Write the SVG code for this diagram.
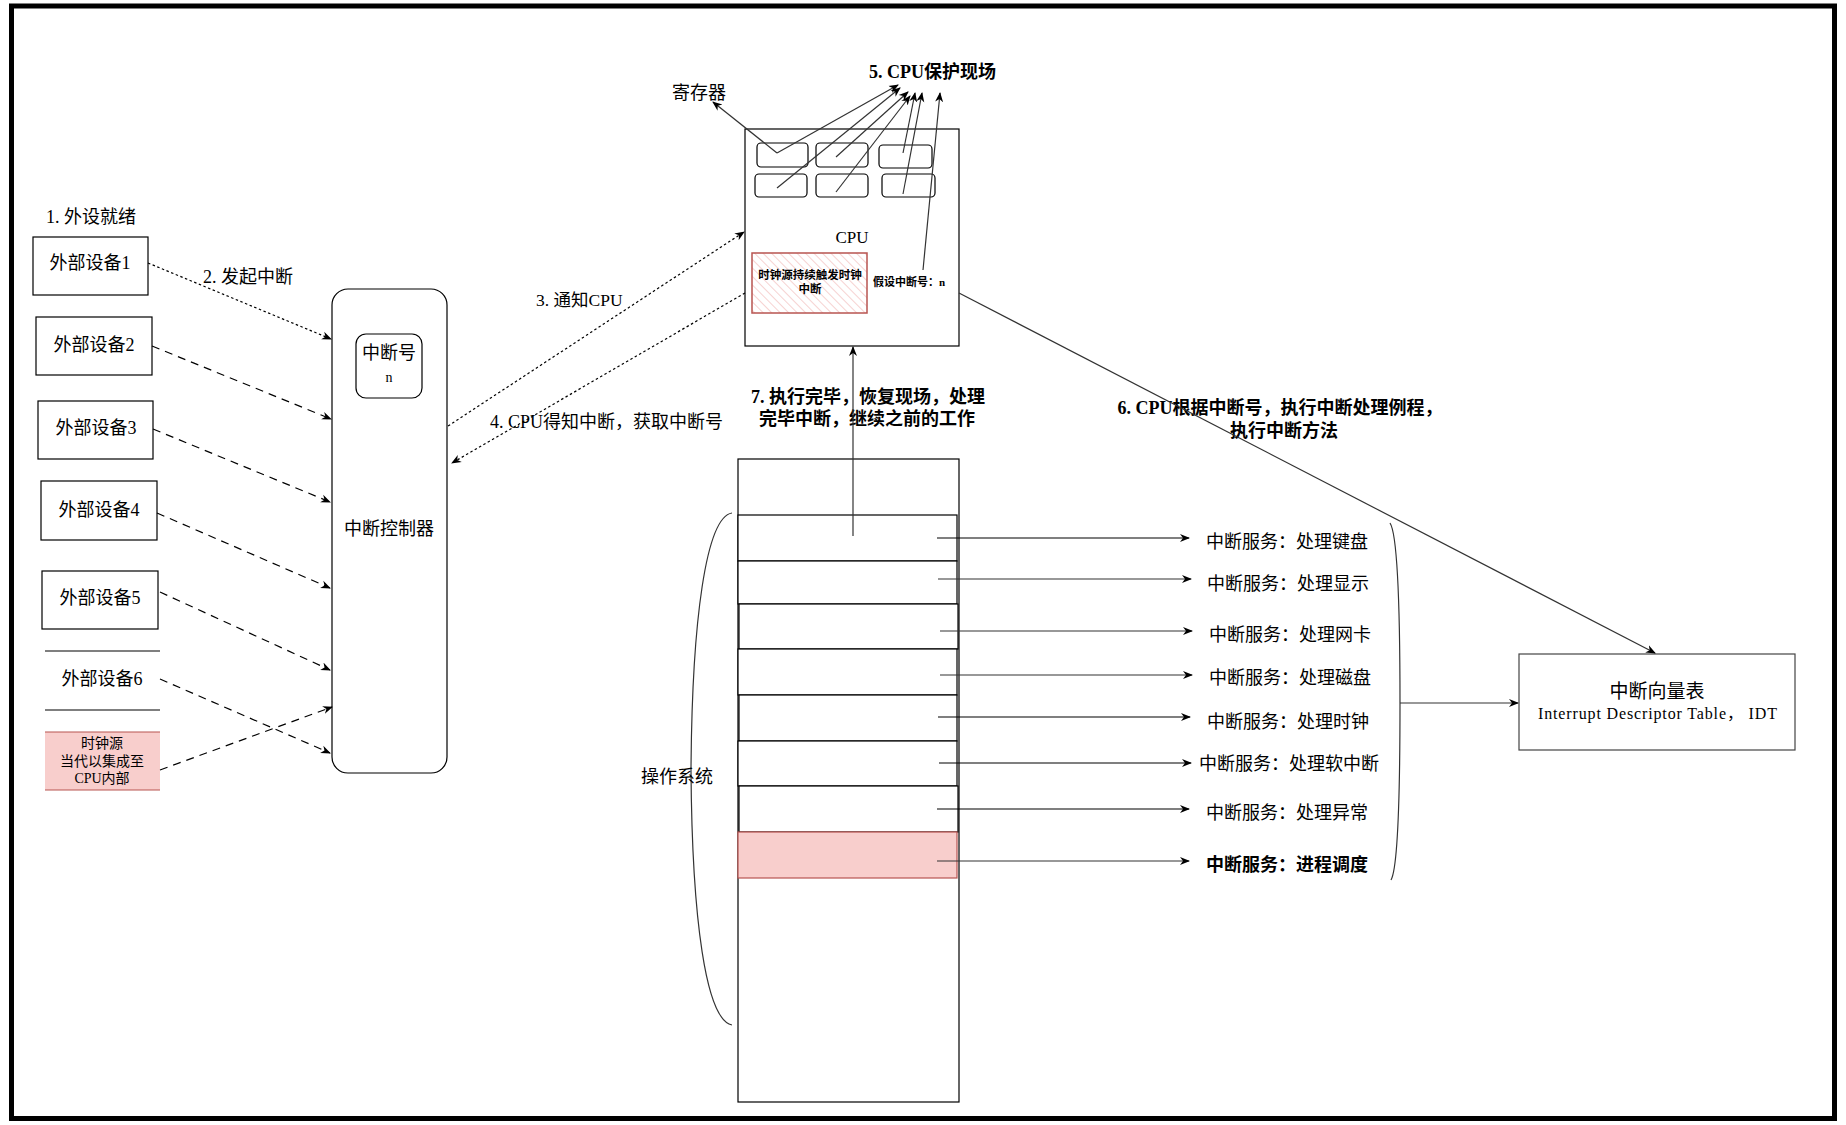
<svg xmlns="http://www.w3.org/2000/svg" width="1846" height="1125" viewBox="0 0 1846 1125">
<style>
.t{font-family:"Liberation Serif","Noto Sans CJK SC",serif;fill:#000;}
.b{font-weight:bold;}
.box{fill:#fff;stroke:#000;stroke-width:1.2;}
.ln{fill:none;stroke:#000;stroke-width:1.2;}
.gl{fill:none;stroke:#333;stroke-width:1.2;}
.dot{fill:none;stroke:#000;stroke-width:1.2;stroke-dasharray:2.5 2.5;}
.dash{fill:none;stroke:#000;stroke-width:1.2;stroke-dasharray:8 6;}
</style>
<defs>
<marker id="ah" viewBox="0 0 10 10" refX="9" refY="5" markerWidth="10" markerHeight="10" markerUnits="userSpaceOnUse" orient="auto">
<path d="M0,1 L10,5 L0,9 L3,5 z" fill="#000"/>
</marker>
<pattern id="hatch" width="6" height="6" patternUnits="userSpaceOnUse" patternTransform="rotate(-45)">
<rect width="6" height="6" fill="#fff"/>
<line x1="0" y1="0" x2="0" y2="6" stroke="#f4c4c2" stroke-width="1.5"/>
</pattern>
</defs>
<rect x="0" y="0" width="1846" height="1125" fill="#fff"/>
<rect x="11.5" y="6" width="1823" height="1112.5" fill="none" stroke="#000" stroke-width="5"/>

<text class="t" x="46" y="223" font-size="18">1. 外设就绪</text>
<text class="t" x="203" y="283" font-size="18">2. 发起中断</text>
<text class="t" x="536" y="306" font-size="17.5">3. 通知CPU</text>
<text class="t" x="490" y="428" font-size="18">4. CPU得知中断，获取中断号</text>
<text class="t b" x="869" y="78" font-size="18">5. CPU保护现场</text>
<text class="t" x="672" y="99" font-size="18">寄存器</text>
<text class="t b" x="1280" y="414" font-size="18" text-anchor="middle">6. CPU根据中断号，执行中断处理例程，</text>
<text class="t b" x="1284" y="437" font-size="18" text-anchor="middle">执行中断方法</text>
<text class="t b" x="868" y="403" font-size="18" text-anchor="middle">7. 执行完毕，恢复现场，处理</text>
<text class="t b" x="867" y="425" font-size="18" text-anchor="middle">完毕中断，继续之前的工作</text>

<g id="dev1"><rect class="box" x="33" y="237" width="115" height="58"/><text class="t" x="90" y="269" font-size="18" text-anchor="middle">外部设备1</text></g>
<g id="dev2"><rect class="box" x="36" y="317" width="116" height="58"/><text class="t" x="94" y="351" font-size="18" text-anchor="middle">外部设备2</text></g>
<g id="dev3"><rect class="box" x="38" y="401" width="115" height="58"/><text class="t" x="96" y="434" font-size="18" text-anchor="middle">外部设备3</text></g>
<g id="dev4"><rect class="box" x="41" y="481" width="116" height="59"/><text class="t" x="99" y="516" font-size="18" text-anchor="middle">外部设备4</text></g>
<g id="dev5"><rect class="box" x="42" y="571" width="116" height="58"/><text class="t" x="100" y="604" font-size="18" text-anchor="middle">外部设备5</text></g>
<g id="dev6"><line class="ln" x1="45" y1="651" x2="160" y2="651"/><line class="ln" x1="45" y1="710" x2="160" y2="710"/><text class="t" x="102" y="685" font-size="18" text-anchor="middle">外部设备6</text></g>
<g id="clock"><rect x="45" y="732" width="115" height="58" fill="#f8cecc"/><line x1="45" y1="732" x2="160" y2="732" stroke="#b85450" stroke-width="1.2"/><line x1="45" y1="790" x2="160" y2="790" stroke="#b85450" stroke-width="1.2"/>
<text class="t" x="102" y="748" font-size="14" text-anchor="middle">时钟源</text>
<text class="t" x="102" y="766" font-size="14" text-anchor="middle">当代以集成至</text>
<text class="t" x="102" y="783" font-size="14" text-anchor="middle">CPU内部</text></g>

<g id="controller"><rect class="box" x="332" y="289" width="115" height="484" rx="16"/>
<rect class="box" x="356" y="334" width="66" height="64" rx="10"/>
<text class="t" x="389" y="359" font-size="18" text-anchor="middle">中断号</text>
<text class="t" x="389" y="382" font-size="14" text-anchor="middle">n</text>
<text class="t" x="389" y="535" font-size="18" text-anchor="middle">中断控制器</text></g>

<g id="cpu"><rect class="box" x="745" y="129" width="214" height="217"/>
<rect class="box" x="757" y="143" width="51" height="24" rx="4"/>
<rect class="box" x="816" y="143" width="52" height="24" rx="4"/>
<rect class="box" x="879" y="145" width="53" height="23" rx="4"/>
<rect class="box" x="755" y="174" width="52" height="23" rx="4"/>
<rect class="box" x="816" y="174" width="52" height="23" rx="4"/>
<rect class="box" x="882" y="174" width="53" height="23" rx="4"/>
<text class="t" x="852" y="243" font-size="17" text-anchor="middle">CPU</text>
<rect x="752" y="253" width="115" height="60" fill="url(#hatch)" stroke="#b85450" stroke-width="1.5"/>
<text class="t b" x="810" y="279" font-size="11.5" text-anchor="middle">时钟源持续触发时钟</text>
<text class="t b" x="810" y="293" font-size="11.5" text-anchor="middle">中断</text>
<text class="t b" x="873" y="286" font-size="11">假设中断号：n</text></g>

<g id="os"><rect class="box" x="738" y="459" width="221" height="643"/>
<rect class="box" x="738" y="515" width="219" height="46"/>
<rect class="box" x="738" y="561" width="219" height="43"/>
<rect class="box" x="739" y="604" width="219" height="45"/>
<rect class="box" x="738" y="649" width="219" height="46"/>
<rect class="box" x="739" y="695" width="218" height="46"/>
<rect class="box" x="738" y="741" width="219" height="45"/>
<rect class="box" x="739" y="786" width="219" height="46"/>
<rect x="738" y="832" width="219" height="46" fill="#f8cecc" stroke="#b85450" stroke-width="1.2"/>
<path class="gl" d="M732,513 C706,517 692,620 691,770 C692,920 706,1020 732,1025"/>
<text class="t" x="677" y="783" font-size="18" text-anchor="middle">操作系统</text></g>

<g id="services">
<text class="t" x="1206" y="548" font-size="18">中断服务：处理键盘</text>
<text class="t" x="1207" y="590" font-size="18">中断服务：处理显示</text>
<text class="t" x="1209" y="641" font-size="18">中断服务：处理网卡</text>
<text class="t" x="1209" y="684" font-size="18">中断服务：处理磁盘</text>
<text class="t" x="1207" y="728" font-size="18">中断服务：处理时钟</text>
<text class="t" x="1199" y="770" font-size="18">中断服务：处理软中断</text>
<text class="t" x="1206" y="819" font-size="18">中断服务：处理异常</text>
<text class="t b" x="1206" y="871" font-size="18">中断服务：进程调度</text>
<path class="gl" d="M1390,523 C1398,535 1400,610 1400,703 C1400,800 1398,868 1391,880"/>
</g>

<g id="idt"><rect x="1519" y="654" width="276" height="96" fill="#fff" stroke="#444" stroke-width="1.2"/>
<text class="t" x="1657" y="698" font-size="19" text-anchor="middle">中断向量表</text>
<text class="t" x="1538" y="719" font-size="16" textLength="239" lengthAdjust="spacing">Interrupt Descriptor Table， IDT</text></g>

<g id="connectors">
<line class="dot" x1="148" y1="263" x2="331" y2="339" marker-end="url(#ah)"/>
<line class="dash" x1="152" y1="346" x2="331" y2="419" marker-end="url(#ah)"/>
<line class="dash" x1="153" y1="429" x2="330" y2="502" marker-end="url(#ah)"/>
<line class="dash" x1="157" y1="513" x2="330" y2="588" marker-end="url(#ah)"/>
<line class="dash" x1="160" y1="592" x2="330" y2="670" marker-end="url(#ah)"/>
<line class="dash" x1="160" y1="679" x2="330" y2="753" marker-end="url(#ah)"/>
<line class="dash" x1="160" y1="770" x2="332" y2="707" marker-end="url(#ah)"/>
<line class="dot" x1="448" y1="426" x2="744" y2="232" marker-end="url(#ah)"/>
<line class="dot" x1="745" y1="293" x2="452" y2="463" marker-end="url(#ah)"/>
<line class="gl" x1="777" y1="153" x2="713" y2="102" marker-end="url(#ah)"/>
<line class="gl" x1="777" y1="153" x2="898" y2="85" marker-end="url(#ah)"/>
<line class="gl" x1="777" y1="188" x2="900" y2="88" marker-end="url(#ah)"/>
<line class="gl" x1="836" y1="157" x2="908" y2="92" marker-end="url(#ah)"/>
<line class="gl" x1="836" y1="192" x2="910" y2="96" marker-end="url(#ah)"/>
<line class="gl" x1="903" y1="153" x2="915" y2="93" marker-end="url(#ah)"/>
<line class="gl" x1="903" y1="194" x2="922" y2="93" marker-end="url(#ah)"/>
<line class="gl" x1="923" y1="270" x2="940" y2="93" marker-end="url(#ah)"/>
<line class="gl" x1="959" y1="293" x2="1655" y2="653" marker-end="url(#ah)"/>
<line class="gl" x1="853" y1="536" x2="853" y2="347" marker-end="url(#ah)"/>
<line class="ln" x1="937" y1="538" x2="1189" y2="538" marker-end="url(#ah)"/>
<line class="gl" x1="938" y1="579" x2="1191" y2="579" marker-end="url(#ah)"/>
<line class="gl" x1="940" y1="631" x2="1192" y2="631" marker-end="url(#ah)"/>
<line class="gl" x1="940" y1="675" x2="1192" y2="675" marker-end="url(#ah)"/>
<line class="ln" x1="938" y1="717" x2="1190" y2="717" marker-end="url(#ah)"/>
<line class="ln" x1="939" y1="763" x2="1191" y2="763" marker-end="url(#ah)"/>
<line class="ln" x1="937" y1="809" x2="1189" y2="809" marker-end="url(#ah)"/>
<line class="gl" x1="937" y1="861" x2="1189" y2="861" marker-end="url(#ah)"/>
<line class="gl" x1="1400" y1="703" x2="1518" y2="703" marker-end="url(#ah)"/>
</g>
</svg>
